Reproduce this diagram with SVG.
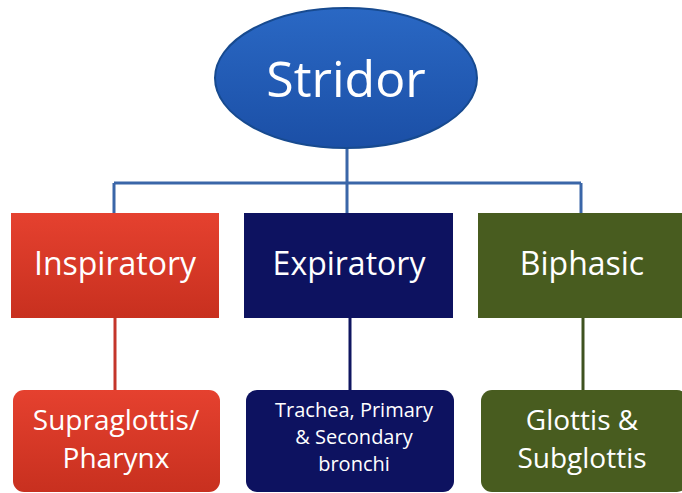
<svg xmlns="http://www.w3.org/2000/svg" width="682" height="493" viewBox="0 0 682 493">
<defs>
<linearGradient id="gRed" x1="0" y1="0" x2="0" y2="1"><stop offset="0" stop-color="#e5412f"/><stop offset="1" stop-color="#c8301f"/></linearGradient>
<linearGradient id="gBlue" x1="0" y1="0" x2="0" y2="1"><stop offset="0" stop-color="#2a68c4"/><stop offset="1" stop-color="#1b4fa6"/></linearGradient>
<style>
.t{font-family:"Open Sans","Liberation Sans",sans-serif;fill:#ffffff;text-anchor:middle}
.big{font-size:50px}
.mid{font-size:32px}
.low{font-size:28px}
.sm{font-size:20px}
.c{fill:none;stroke-width:3}
</style>
</defs>
<rect width="682" height="493" fill="#ffffff"/>
<g id="connectors">
<path class="c" stroke="#3a66a8" d="M347 148 V183 M114 183 H581 M114 183 V213 M347 183 V213 M581 183 V213"/>
<path class="c" stroke="#c4352a" d="M115 318 V390"/>
<path class="c" stroke="#0f1560" d="M350 318 V390"/>
<path class="c" stroke="#3f5220" d="M583 318 V390"/>
</g>
<g id="stridor">
<ellipse cx="346" cy="78" rx="131" ry="70" fill="url(#gBlue)" stroke="#174a8f" stroke-width="2"/>
<text class="t big" x="346" y="97">Stridor</text>
</g>
<g id="inspiratory">
<rect x="11" y="213" width="208" height="105" fill="url(#gRed)"/>
<text class="t mid" x="115" y="275">Inspiratory</text>
</g>
<g id="expiratory">
<rect x="244" y="213" width="209" height="105" fill="#0d1260"/>
<text class="t mid" x="349" y="275">Expiratory</text>
</g>
<g id="biphasic">
<rect x="478" y="213" width="210" height="105" fill="#485c1f"/>
<text class="t mid" x="582" y="275">Biphasic</text>
</g>
<g id="supraglottis">
<rect x="13" y="390" width="207" height="102" rx="11" fill="url(#gRed)"/>
<text class="t low" x="116" y="430">Supraglottis/</text>
<text class="t low" x="116" y="468">Pharynx</text>
</g>
<g id="trachea">
<rect x="246" y="390" width="208" height="102" rx="11" fill="#0d1260"/>
<text class="t sm" x="354" y="417">Trachea, Primary</text>
<text class="t sm" x="354" y="444">&amp; Secondary</text>
<text class="t sm" x="354" y="471">bronchi</text>
</g>
<g id="glottis">
<rect x="481" y="390" width="207" height="102" rx="11" fill="#485c1f"/>
<text class="t low" x="582" y="430">Glottis &amp;</text>
<text class="t low" x="582" y="468">Subglottis</text>
</g>
</svg>
